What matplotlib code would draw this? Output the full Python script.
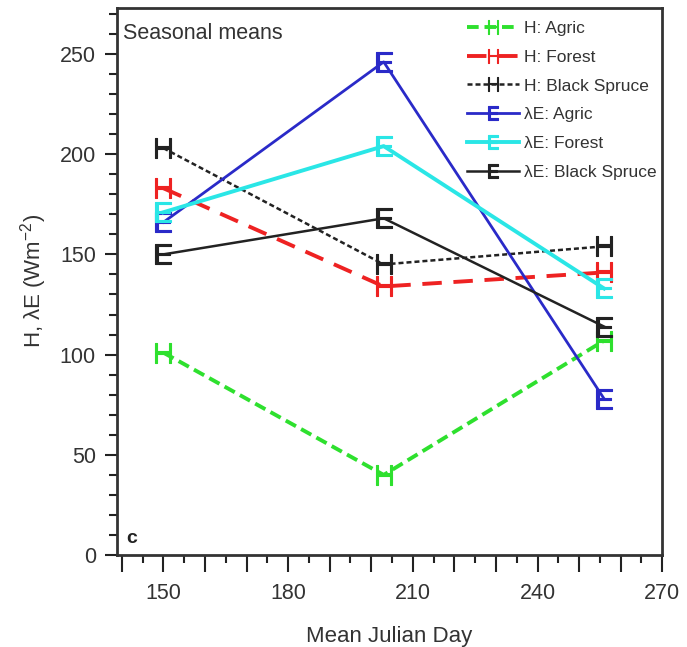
import matplotlib
matplotlib.use("Agg")
import matplotlib.pyplot as plt
from matplotlib.ticker import MultipleLocator, FuncFormatter

plt.rcParams['font.family'] = ['Liberation Sans', 'DejaVu Sans']
plt.rcParams['mathtext.fontset'] = 'custom'
plt.rcParams['mathtext.rm'] = 'Liberation Sans'
plt.rcParams['mathtext.sf'] = 'Liberation Sans'
plt.rcParams['mathtext.it'] = 'Liberation Sans:italic'

days = [150, 203, 256]
h_agric = [101, 40, 107]
h_forest = [183, 134, 141]
h_spruce = [203, 145, 154]
le_agric = [166, 246, 78]
le_forest = [171, 204, 133]
le_spruce = [150, 168, 114]

labels = ["H: Agric", "H: Forest", "H: Black Spruce",
          "\u03bbE: Agric", "\u03bbE: Forest", "\u03bbE: Black Spruce"]

fig = plt.figure(figsize=(6.87, 6.47), dpi=100)
ax = fig.add_axes([0.170, 0.142, 0.794, 0.846])

mH = r'$\mathsf{H}$'
mE = r'$\mathsf{E}$'
ms = 15
mew = 0.8

ax.plot(days, h_agric, color='#2ee02e', ls=(0, (3, 1.5)), lw=2.8, marker=mH, ms=ms, mew=mew, label=labels[0])
ax.plot(days, h_forest, color='#ee2222', ls=(0, (5, 3)), lw=2.8, marker=mH, ms=ms, mew=mew, label=labels[1])
ax.plot(days, h_spruce, color='#222222', ls=(0, (2, 1.2)), lw=1.8, marker=mH, ms=ms, mew=mew, label=labels[2])
ax.plot(days, le_agric, color='#2a2ac8', ls='-', lw=2.0, marker=mE, ms=ms, mew=mew, label=labels[3])
ax.plot(days, le_forest, color='#2ae6e6', ls='-', lw=2.8, marker=mE, ms=ms, mew=mew, label=labels[4])
ax.plot(days, le_spruce, color='#222222', ls='-', lw=1.8, marker=mE, ms=ms, mew=mew, label=labels[5])

ax.set_xlim(138.8, 270)
ax.set_ylim(0, 273)
ax.xaxis.set_major_locator(MultipleLocator(10))
ax.xaxis.set_minor_locator(MultipleLocator(5))
ax.xaxis.set_major_formatter(FuncFormatter(lambda v, p: f"{v:.0f}" if round(v) % 30 == 0 else ""))
ax.yaxis.set_major_locator(MultipleLocator(50))
ax.yaxis.set_minor_locator(MultipleLocator(10))
ax.tick_params(axis='x', which='major', direction='out', length=12, width=1.5, pad=8,
               labelsize=15.5, colors='#222222', labelcolor='#333333')
ax.tick_params(axis='x', which='minor', direction='out', length=6, width=1.5, colors='#222222')
ax.tick_params(axis='y', which='major', direction='out', length=9, width=1.5, pad=6,
               labelsize=15.5, colors='#222222', labelcolor='#333333')
ax.tick_params(axis='y', which='minor', direction='out', length=5.5, width=1.5, colors='#222222')
for s in ax.spines.values():
    s.set_linewidth(2)
    s.set_color('#333333')

ax.set_xlabel("Mean Julian Day", fontsize=16, color='#333333', labelpad=16)
ax.set_ylabel("H, \u03bbE (Wm$^{-2}$)", fontsize=16, color='#333333', labelpad=8)

ax.text(0.012, 0.972, "Seasonal means", transform=ax.transAxes, ha='left', va='top',
        fontsize=15.5, color='#333333')
ax.text(0.018, 0.015, "c", transform=ax.transAxes, ha='left', va='bottom',
        fontsize=14, fontweight='bold', color='#222222')

leg = ax.legend(loc='upper right', bbox_to_anchor=(1.0, 0.986), frameon=False, fontsize=12.5,
                handlelength=3.0, handletextpad=0.3, labelspacing=0.79, borderaxespad=0.1,
                borderpad=0.2, markerscale=0.65)
for t in leg.get_texts():
    t.set_color('#333333')

fig.savefig("out.png", dpi=100)
